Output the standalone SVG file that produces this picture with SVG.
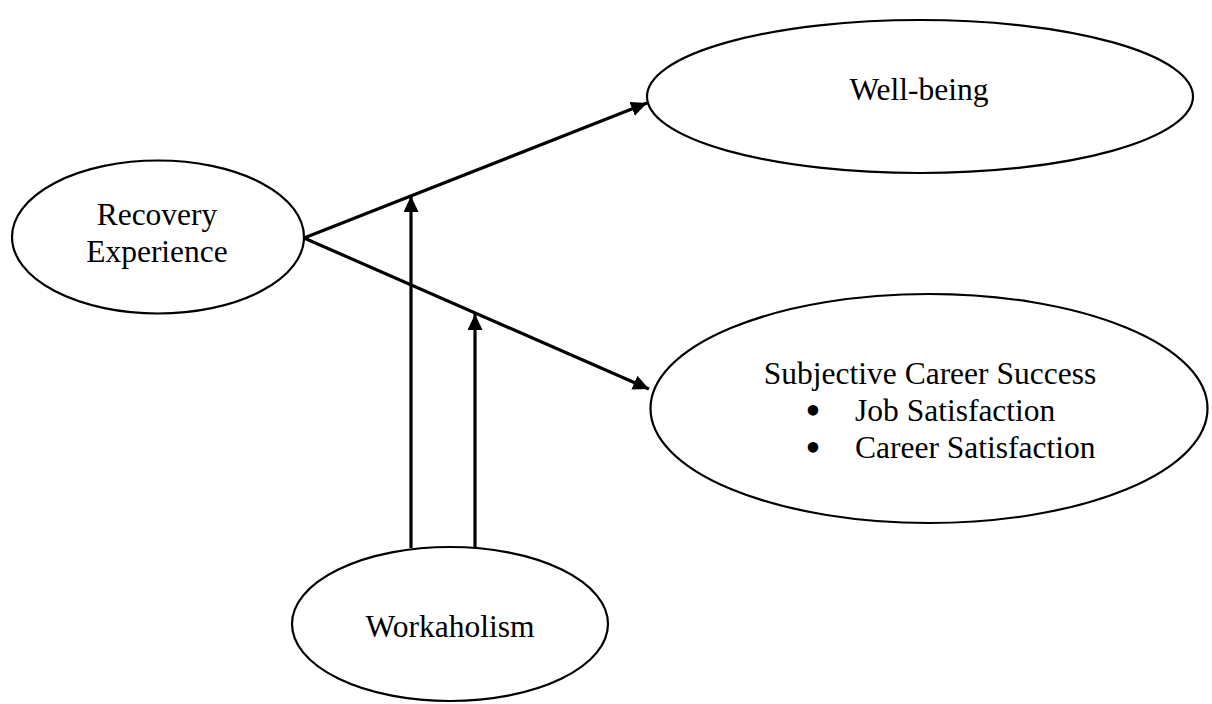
<svg xmlns="http://www.w3.org/2000/svg" width="1212" height="704" viewBox="0 0 1212 704">
<style>
.node ellipse{fill:#fff;stroke:#000;stroke-width:2.2}
.node text{font-family:"Liberation Serif","Times New Roman",serif;font-size:31.5px;fill:#000}
.c{text-anchor:middle}
.node text.b{font-size:44px}
.conn line{stroke:#000;stroke-width:3.2}
</style>
<defs>
<marker id="ah" markerUnits="userSpaceOnUse" markerWidth="18" markerHeight="16" refX="16" refY="7.5" orient="auto">
<path d="M0,0 L16,7.5 L0,15 Z" fill="#000"/>
</marker>
</defs>
<rect width="1212" height="704" fill="#fff"/>
<g id="wellbeing" class="node">
<ellipse cx="920" cy="96.5" rx="273" ry="76.5"/>
<text class="c" x="919" y="100">Well-being</text>
</g>
<g id="recovery" class="node">
<ellipse cx="158" cy="237" rx="146" ry="76.5"/>
<text class="c" x="157" y="225">Recovery</text>
<text class="c" x="157" y="262">Experience</text>
</g>
<g id="career" class="node">
<ellipse cx="929" cy="408.5" rx="278.5" ry="114.5"/>
<text class="c" x="930" y="384">Subjective Career Success</text>
<text class="c b" x="813" y="425">•</text>
<text x="855" y="421">Job Satisfaction</text>
<text class="c b" x="813" y="462">•</text>
<text x="855" y="458">Career Satisfaction</text>
</g>
<g id="workaholism" class="node">
<ellipse cx="450" cy="624" rx="158" ry="77"/>
<text class="c" x="450" y="637">Workaholism</text>
</g>
<g id="connectors" class="conn">
<line x1="304" y1="238" x2="647" y2="103" marker-end="url(#ah)"/>
<line x1="304" y1="238" x2="649" y2="389" marker-end="url(#ah)"/>
<line x1="411" y1="548" x2="411" y2="196" marker-end="url(#ah)"/>
<line x1="475" y1="548" x2="475" y2="314" marker-end="url(#ah)"/>
</g>
</svg>
